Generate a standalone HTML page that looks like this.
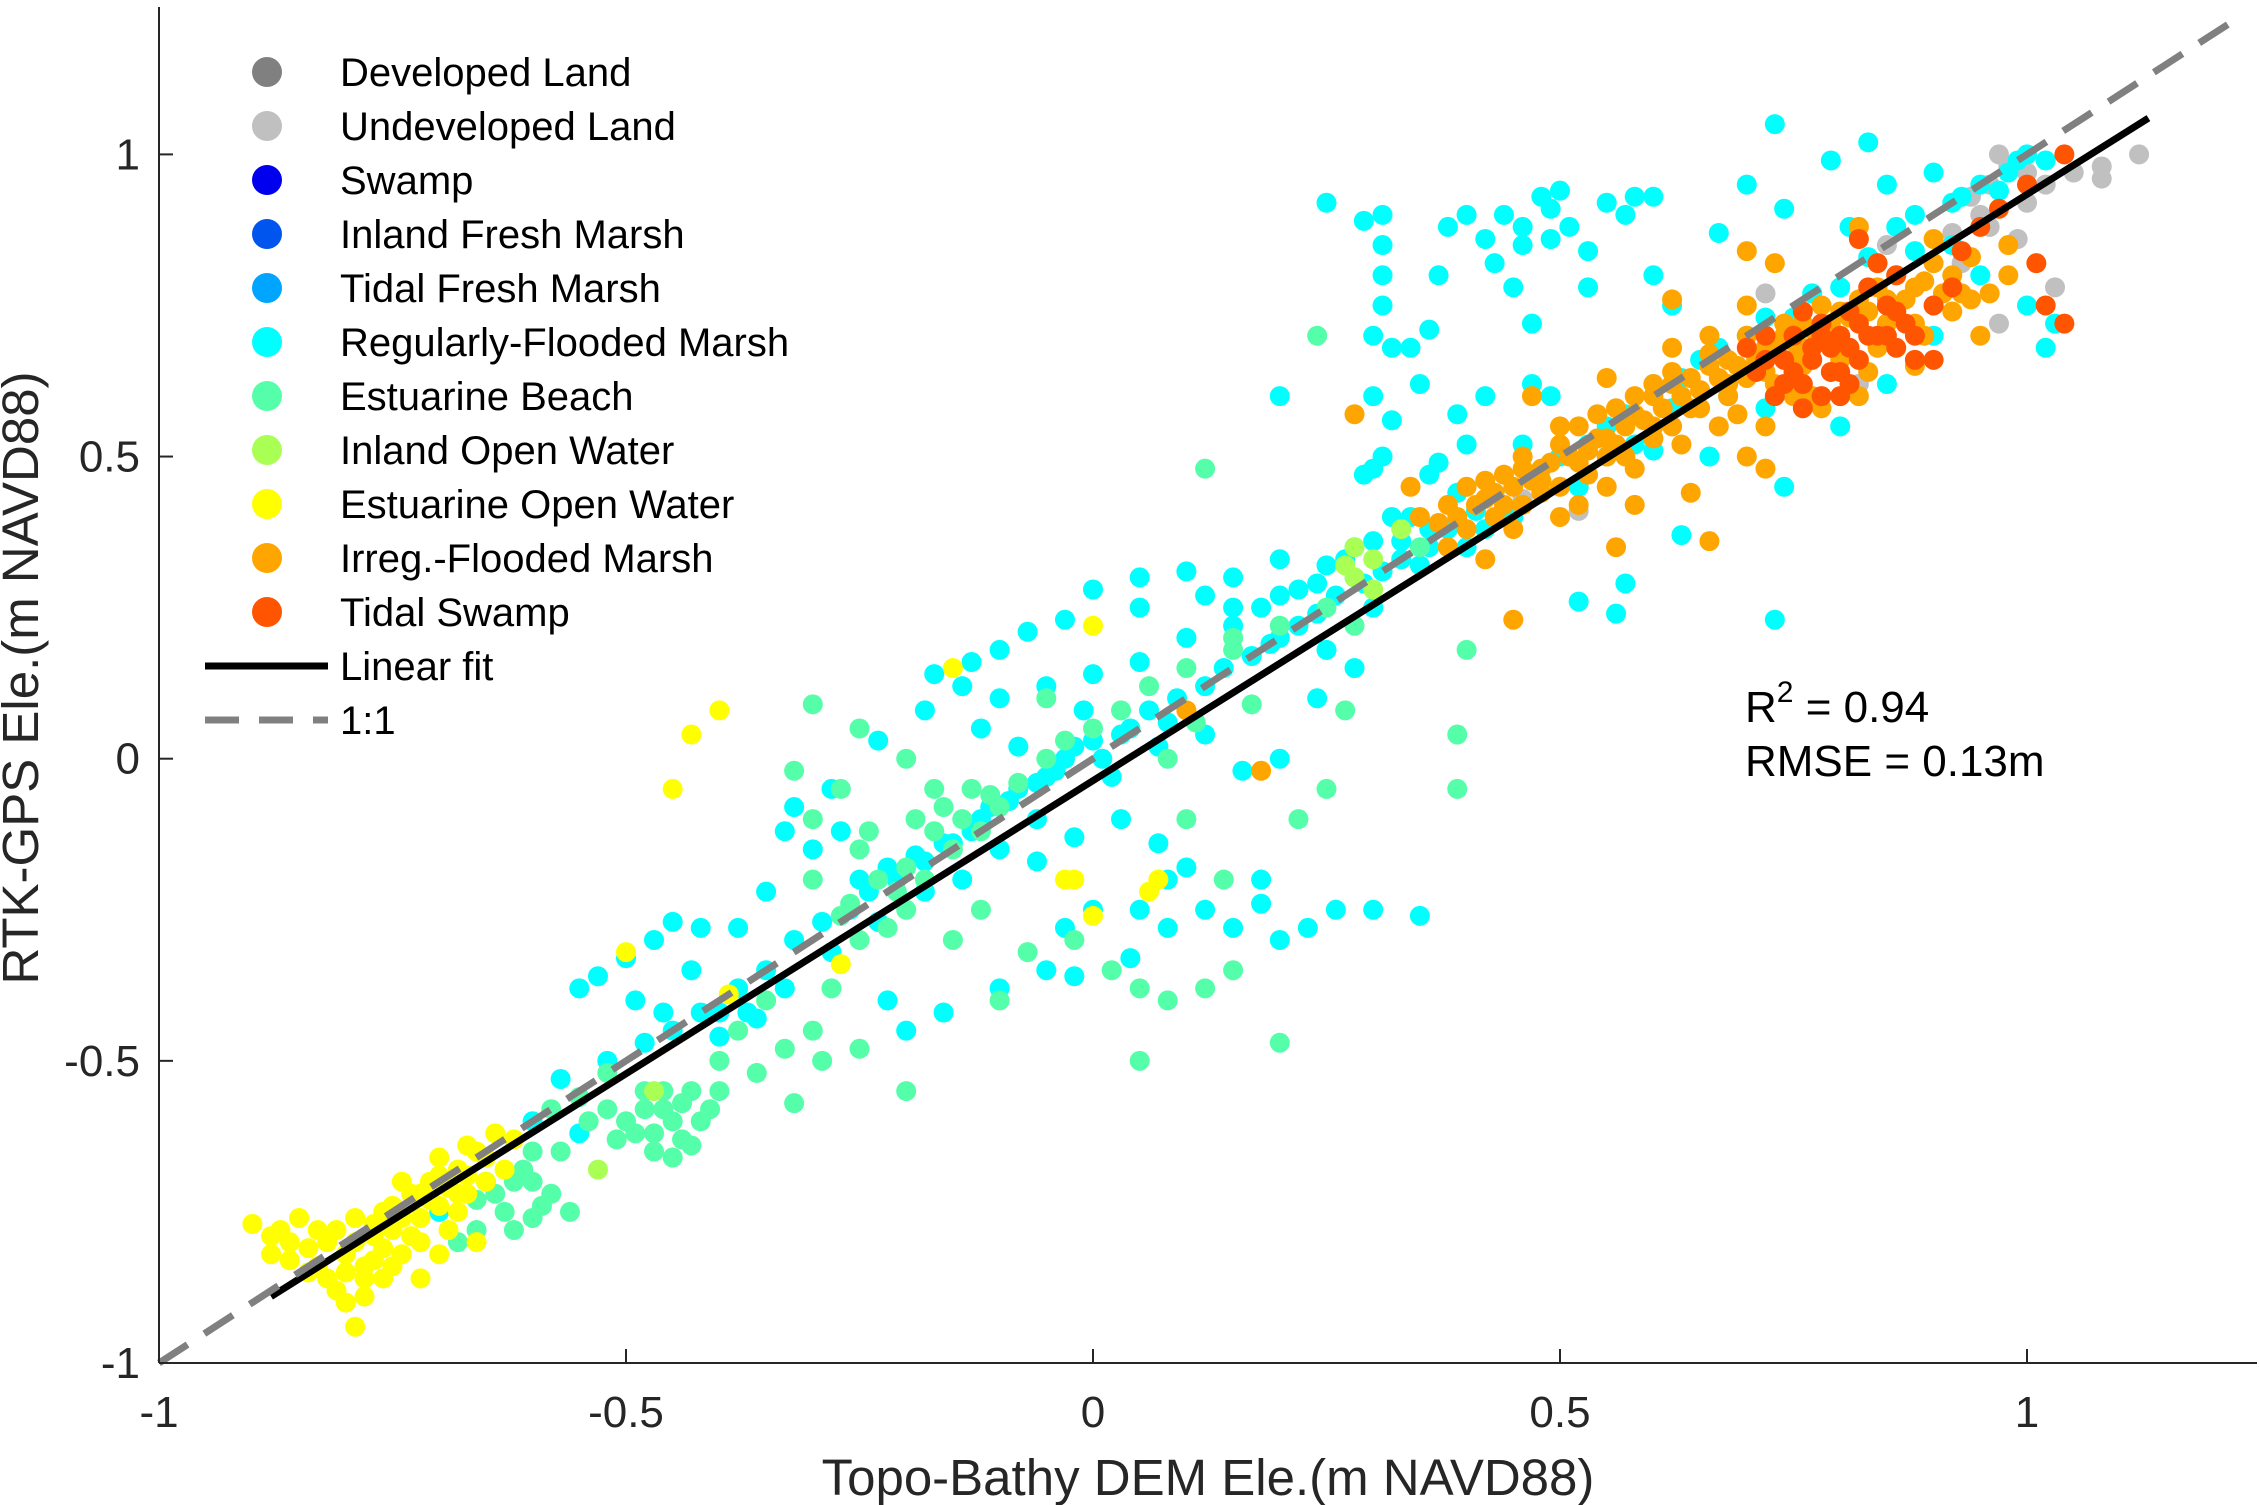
<!DOCTYPE html>
<html><head><meta charset="utf-8"><style>
html,body{margin:0;padding:0;background:#fff;}
svg{display:block;font-family:"Liberation Sans",sans-serif;}
</style></head><body>
<svg id="chart" width="2260" height="1505" viewBox="0 0 2260 1505">
<g id="marks"></g>
<g id="axes"></g>
<g id="legend"></g>
<text x="1745" y="722" font-size="44">R<tspan dy="-20" font-size="30">2</tspan><tspan dy="20"> = 0.94</tspan></text>
<text x="1745" y="776" font-size="44">RMSE = 0.13m</text>
<text x="1208" y="1495" font-size="51" text-anchor="middle" fill="#262626">Topo-Bathy DEM Ele.(m NAVD88)</text>
<text transform="translate(38,678) rotate(-90)" font-size="51" text-anchor="middle" fill="#262626">RTK-GPS Ele.(m NAVD88)</text>
</svg>
<script>
const xTicks=[-1,-0.5,0,0.5,1];
const yTicks=[-1,-0.5,0,0.5,1];
const xTickLabels=["-1","-0.5","0","0.5","1"];
const yTickLabels=["-1","-0.5","0","0.5","1"];
const fitLine=[[-0.88,-0.89],[1.13,1.06]];
const oneToOne=[[-1,-1],[1.23,1.23]];
const gray=[[0.98,0.98],[1.02,0.95],[1.05,0.97],[1.08,0.98],[1.12,1.0],[0.95,0.9],[0.93,0.82],[1.0,0.92],[0.9,0.75],[0.85,0.85],[0.97,0.72],[1.03,0.78],[0.52,0.41],[0.46,0.43],[0.72,0.77],[1.08,0.96],[0.96,0.95],[0.92,0.87],[0.99,0.86],[0.82,0.62],[0.97,1.0],[1.0,0.97],[0.94,0.93],[0.96,0.88]];
const cyan=[[0.25,0.92],[0.29,0.89],[0.31,0.9],[0.31,0.85],[0.31,0.8],[0.31,0.75],[0.3,0.7],[0.32,0.68],[0.3,0.6],[0.32,0.56],[0.31,0.5],[0.3,0.48],[0.29,0.47],[0.38,0.88],[0.4,0.9],[0.42,0.86],[0.44,0.9],[0.46,0.88],[0.48,0.93],[0.49,0.91],[0.5,0.94],[0.51,0.88],[0.55,0.92],[0.57,0.9],[0.58,0.93],[0.6,0.93],[0.43,0.82],[0.46,0.85],[0.49,0.86],[0.53,0.84],[0.37,0.8],[0.45,0.78],[0.53,0.78],[0.6,0.8],[0.62,0.75],[0.67,0.87],[0.7,0.95],[0.74,0.91],[0.79,0.99],[0.83,1.02],[0.73,1.05],[0.81,0.88],[0.85,0.95],[0.9,0.97],[0.93,0.93],[1.02,0.99],[1.0,0.75],[1.03,0.72],[1.02,0.68],[0.47,0.72],[0.36,0.71],[0.34,0.68],[0.35,0.62],[0.2,0.6],[0.42,0.6],[0.39,0.57],[0.4,0.52],[0.47,0.62],[0.49,0.6],[0.46,0.52],[0.37,0.49],[0.36,0.47],[0.55,0.55],[0.58,0.52],[0.6,0.51],[0.66,0.5],[0.74,0.45],[0.73,0.23],[0.52,0.26],[0.57,0.29],[0.56,0.24],[0.63,0.37],[0.35,0.32],[0.36,0.38],[0.32,0.4],[0.28,0.35],[0.25,0.32],[0.2,0.33],[0.15,0.3],[0.1,0.31],[0.05,0.3],[0.0,0.28],[0.05,0.25],[0.12,0.27],[0.18,0.25],[0.22,0.28],[0.28,0.3],[0.33,0.36],[-0.03,0.23],[-0.07,0.21],[-0.1,0.18],[-0.13,0.16],[-0.17,0.14],[-0.14,0.12],[-0.1,0.1],[-0.05,0.12],[0.0,0.14],[0.05,0.16],[0.1,0.2],[0.15,0.22],[0.2,0.2],[0.25,0.18],[0.3,0.25],[0.28,0.15],[0.24,0.1],[0.2,0.0],[0.16,-0.02],[0.12,0.04],[0.08,0.06],[0.04,0.05],[0.0,0.03],[-0.03,0.0],[-0.05,-0.03],[-0.08,-0.05],[-0.12,-0.1],[-0.15,-0.14],[-0.19,-0.16],[-0.22,-0.18],[-0.25,-0.2],[-0.3,-0.15],[-0.33,-0.12],[-0.28,-0.05],[-0.35,-0.22],[-0.38,-0.28],[-0.42,-0.28],[-0.45,-0.27],[-0.47,-0.3],[-0.5,-0.33],[-0.53,-0.36],[-0.55,-0.38],[-0.43,-0.35],[-0.4,-0.42],[-0.46,-0.42],[-0.49,-0.4],[-0.36,-0.43],[-0.22,-0.4],[-0.2,-0.45],[-0.16,-0.42],[-0.1,-0.38],[-0.05,-0.35],[-0.03,-0.28],[0.0,-0.25],[0.05,-0.25],[0.08,-0.2],[0.1,-0.18],[0.12,-0.25],[0.15,-0.28],[0.18,-0.24],[0.2,-0.3],[0.23,-0.28],[0.26,-0.25],[0.3,-0.25],[0.35,-0.26],[0.18,-0.2],[0.07,-0.14],[0.03,-0.1],[-0.02,-0.13],[-0.06,-0.17],[-0.02,-0.36],[0.04,-0.33],[0.08,-0.28],[-0.27,-0.12],[-0.32,-0.08],[-0.23,0.03],[-0.18,0.08],[-0.12,0.05],[-0.08,0.02],[-0.6,-0.6],[-0.55,-0.62],[-0.65,-0.7],[-0.7,-0.75],[0.6,0.62],[0.65,0.66],[0.7,0.7],[0.75,0.73],[0.8,0.78],[0.88,0.84],[0.95,0.95],[0.55,0.5],[0.52,0.45],[0.45,0.4],[0.42,0.38],[0.4,0.35],[0.48,0.46],[0.85,0.62],[0.8,0.55],[0.72,0.58],[0.9,0.7],[0.95,0.8],[0.62,0.58],[0.68,0.6],
[-0.45,-0.45],[-0.42,-0.42],[-0.38,-0.38],[-0.35,-0.35],[-0.32,-0.3],[-0.29,-0.27],[-0.26,-0.25],[-0.24,-0.22],[-0.21,-0.2],[-0.18,-0.17],[-0.16,-0.14],[-0.13,-0.12],[-0.11,-0.08],[-0.09,-0.07],[-0.06,-0.04],[-0.04,-0.02],[-0.02,0.02],[0.01,0.0],[0.03,0.04],[0.06,0.08],[0.09,0.1],[0.12,0.12],[0.14,0.15],[0.17,0.17],[0.19,0.19],[0.22,0.22],[0.24,0.24],[0.26,0.27],[0.29,0.29],[0.31,0.31],[0.33,0.33],[0.36,0.35],[0.38,0.38],[0.41,0.41],[0.43,0.44],[0.47,0.47],[0.5,0.5],[0.53,0.52],[0.57,0.57],[0.63,0.63],[0.67,0.68],[0.72,0.73],[0.77,0.77],[0.83,0.83],[0.86,0.88],[0.92,0.92],[0.98,0.97],[-0.4,-0.46],[-0.37,-0.42],[-0.33,-0.38],[-0.28,-0.32],[-0.23,-0.27],[-0.18,-0.22],[-0.14,-0.2],[-0.1,-0.15],[-0.06,-0.1],[0.15,0.25],[0.2,0.27],[0.24,0.29],[0.27,0.33],[0.3,0.36],[0.34,0.4],[0.39,0.44],[-0.48,-0.47],[-0.52,-0.5],[-0.57,-0.53],[0.02,-0.03],[0.07,0.02],[-0.01,0.08],[0.97,0.94],[0.99,0.99],[1.0,1.0],[0.88,0.9],[0.92,0.85]];
const beach=[[-0.48,-0.55],[-0.46,-0.58],[-0.45,-0.6],[-0.43,-0.55],[-0.47,-0.62],[-0.44,-0.63],[-0.5,-0.6],[-0.42,-0.6],[-0.52,-0.58],[-0.55,-0.56],[-0.58,-0.58],[-0.6,-0.65],[-0.62,-0.7],[-0.58,-0.72],[-0.56,-0.75],[-0.6,-0.76],[-0.64,-0.72],[-0.52,-0.52],[-0.4,-0.5],[-0.38,-0.45],[-0.35,-0.4],[-0.33,-0.48],[-0.3,-0.45],[-0.28,-0.38],[-0.25,-0.3],[-0.22,-0.28],[-0.2,-0.25],[-0.18,-0.2],[-0.15,-0.15],[-0.12,-0.12],[-0.1,-0.08],[-0.08,-0.04],[-0.05,0.0],[-0.03,0.03],[0.0,0.05],[0.03,0.08],[0.06,0.12],[0.1,0.15],[0.15,0.18],[0.2,0.22],[0.25,0.25],[0.28,0.22],[-0.3,-0.1],[-0.27,-0.05],[-0.32,-0.02],[-0.25,0.05],[-0.2,0.0],[-0.15,-0.3],[-0.12,-0.25],[-0.1,-0.4],[-0.07,-0.32],[-0.02,-0.3],[0.02,-0.35],[0.05,-0.38],[0.08,-0.4],[0.12,-0.38],[0.15,-0.35],[-0.32,-0.57],[-0.29,-0.5],[-0.2,-0.55],[-0.25,-0.48],[0.11,0.06],[0.17,0.09],[0.22,-0.1],[0.25,-0.05],[0.27,0.08],[0.39,0.04],[0.39,-0.05],[0.12,0.48],[-0.3,0.09],[-0.25,-0.15],[-0.17,-0.05],[-0.4,-0.55],[-0.36,-0.52],[0.05,-0.5],[0.2,-0.47],[0.4,0.18],[0.35,0.35],[-0.66,-0.78],[-0.68,-0.8],[-0.62,-0.78],[0.14,-0.2],[0.1,-0.1],[0.08,0.0],[0.24,0.7],[0.15,0.2],[-0.05,0.1],
[-0.49,-0.62],[-0.47,-0.65],[-0.45,-0.66],[-0.43,-0.64],[-0.48,-0.58],[-0.44,-0.57],[-0.46,-0.55],[-0.51,-0.63],[-0.41,-0.58],[-0.54,-0.6],[-0.57,-0.65],[-0.6,-0.7],[-0.63,-0.75],[-0.66,-0.73],[-0.61,-0.68],[-0.59,-0.74],[-0.23,-0.2],[-0.2,-0.18],[-0.17,-0.12],[-0.14,-0.1],[-0.11,-0.06],[-0.21,-0.22],[-0.26,-0.24],[-0.19,-0.1],[-0.16,-0.08],[-0.13,-0.05],[-0.24,-0.12],[-0.3,-0.2],[-0.27,-0.26]];
const inland=[[0.28,0.35],[0.3,0.33],[0.33,0.38],[0.28,0.3],[0.3,0.28],[0.27,0.32],[-0.53,-0.68],[-0.47,-0.55]];
const yellow=[[-0.9,-0.77],[-0.88,-0.82],[-0.86,-0.8],[-0.84,-0.85],[-0.83,-0.78],[-0.82,-0.8],[-0.8,-0.82],[-0.79,-0.76],[-0.78,-0.86],[-0.77,-0.79],[-0.76,-0.75],[-0.75,-0.78],[-0.74,-0.82],[-0.73,-0.72],[-0.72,-0.76],[-0.71,-0.7],[-0.7,-0.74],[-0.69,-0.78],[-0.68,-0.68],[-0.67,-0.72],[-0.66,-0.65],[-0.65,-0.7],[-0.64,-0.62],[-0.63,-0.68],[-0.62,-0.63],[-0.8,-0.9],[-0.79,-0.94],[-0.81,-0.88],[-0.76,-0.86],[-0.7,-0.82],[-0.72,-0.86],[-0.85,-0.76],[-0.87,-0.78],[-0.66,-0.8],[-0.68,-0.75],[-0.74,-0.7],[-0.77,-0.83],[-0.83,-0.84],[-0.43,0.04],[-0.45,-0.05],[-0.4,0.08],[-0.15,0.15],[0.0,0.22],[-0.03,-0.2],[0.0,-0.26],[0.07,-0.2],[-0.5,-0.32],[-0.27,-0.34],[-0.39,-0.39],[0.06,-0.22],[-0.02,-0.2],
[-0.81,-0.78],[-0.79,-0.8],[-0.77,-0.77],[-0.75,-0.74],[-0.73,-0.79],[-0.71,-0.73],[-0.69,-0.71],[-0.67,-0.69],[-0.78,-0.84],[-0.76,-0.81],[-0.74,-0.76],[-0.72,-0.72],[-0.7,-0.69],[-0.68,-0.72],[-0.84,-0.81],[-0.82,-0.86],[-0.8,-0.85],[-0.88,-0.79],[-0.86,-0.83],[-0.65,-0.66],[-0.67,-0.64],[-0.7,-0.66],[-0.72,-0.8],[-0.75,-0.84],[-0.78,-0.89]];
const orange=[[0.35,0.4],[0.38,0.42],[0.4,0.45],[0.42,0.43],[0.44,0.47],[0.46,0.5],[0.48,0.48],[0.5,0.52],[0.52,0.55],[0.54,0.53],[0.56,0.58],[0.58,0.57],[0.6,0.6],[0.62,0.62],[0.64,0.63],[0.66,0.65],[0.68,0.66],[0.7,0.7],[0.72,0.68],[0.74,0.72],[0.76,0.72],[0.78,0.75],[0.8,0.74],[0.82,0.76],[0.84,0.78],[0.86,0.8],[0.88,0.78],[0.9,0.82],[0.92,0.8],[0.94,0.83],[0.4,0.38],[0.43,0.4],[0.46,0.42],[0.48,0.44],[0.5,0.45],[0.53,0.47],[0.55,0.5],[0.57,0.5],[0.6,0.53],[0.62,0.55],[0.65,0.58],[0.68,0.6],[0.7,0.63],[0.73,0.62],[0.76,0.65],[0.8,0.66],[0.84,0.68],[0.88,0.72],[0.92,0.74],[0.96,0.77],[0.98,0.8],[0.45,0.38],[0.5,0.4],[0.52,0.42],[0.55,0.45],[0.58,0.48],[0.6,0.62],[0.62,0.68],[0.66,0.7],[0.7,0.75],[0.67,0.55],[0.72,0.55],[0.78,0.58],[0.82,0.6],[0.7,0.5],[0.72,0.48],[0.77,0.6],[0.66,0.36],[0.47,0.6],[0.55,0.63],[0.62,0.76],[0.7,0.84],[0.73,0.82],[0.9,0.86],[0.93,0.77],[0.98,0.85],[0.82,0.88],[0.45,0.23],[0.18,-0.02],[0.28,0.57],[0.34,0.45],[0.38,0.35],[0.42,0.33],[0.58,0.42],[0.85,0.72],[0.88,0.65],[0.95,0.7],[0.1,0.08],[0.56,0.35],[0.75,0.66],[0.64,0.44],
[0.37,0.39],[0.39,0.4],[0.41,0.42],[0.43,0.44],[0.45,0.45],[0.47,0.46],[0.49,0.49],[0.51,0.5],[0.53,0.51],[0.55,0.53],[0.57,0.55],[0.59,0.56],[0.61,0.58],[0.63,0.6],[0.65,0.61],[0.67,0.63],[0.69,0.65],[0.71,0.66],[0.73,0.68],[0.75,0.69],[0.77,0.71],[0.79,0.72],[0.81,0.73],[0.83,0.74],[0.85,0.76],[0.87,0.76],[0.89,0.79],[0.91,0.77],[0.44,0.42],[0.48,0.46],[0.52,0.49],[0.56,0.52],[0.6,0.55],[0.64,0.58],[0.68,0.62],[0.72,0.64],[0.76,0.68],[0.8,0.7],[0.86,0.74],[0.42,0.46],[0.46,0.48],[0.5,0.55],[0.54,0.57],[0.58,0.6],[0.62,0.64],[0.66,0.67],[0.74,0.7],[0.63,0.52],[0.69,0.57],[0.75,0.6],[0.83,0.64],[0.89,0.7],[0.94,0.76]];
const red=[[0.7,0.68],[0.72,0.7],[0.74,0.66],[0.75,0.7],[0.76,0.74],[0.78,0.72],[0.79,0.68],[0.8,0.7],[0.81,0.74],[0.82,0.72],[0.83,0.78],[0.84,0.7],[0.85,0.75],[0.86,0.68],[0.87,0.72],[0.88,0.66],[0.9,0.66],[0.76,0.62],[0.78,0.6],[0.8,0.64],[0.73,0.6],[0.84,0.82],[0.82,0.86],[0.86,0.8],[0.9,0.75],[0.92,0.78],[0.93,0.84],[0.95,0.88],[0.97,0.91],[1.0,0.95],[1.04,1.0],[1.01,0.82],[1.02,0.75],[1.04,0.72],[0.77,0.66],[0.81,0.62],
[0.75,0.64],[0.77,0.68],[0.79,0.64],[0.81,0.68],[0.83,0.7],[0.85,0.7],[0.74,0.62],[0.76,0.58],[0.8,0.6],[0.82,0.66],[0.78,0.7],[0.72,0.66],[0.71,0.64],[0.86,0.74],[0.88,0.7]];
const X0=159,XS=934,Y0=1363,YS=604.3;
const xs=v=>X0+(v+1)*XS;
const ys=v=>Y0-(v+1)*YS;
const NS="http://www.w3.org/2000/svg";
const marks=document.getElementById('marks');
function drawSeries(arr,color,name){
  const g=document.createElementNS(NS,'g');
  
  
  arr.forEach(p=>{
    const c=document.createElementNS(NS,'circle');
    c.setAttribute('cx',xs(p[0]));c.setAttribute('cy',ys(p[1]));c.setAttribute('r',10);c.setAttribute('fill',color);
    
    
    g.appendChild(c);
  });
  marks.appendChild(g);
}
drawSeries(gray,'#c0c0c0','undeveloped-land');
drawSeries(cyan,'#00ffff','regularly-flooded-marsh');
drawSeries(beach,'#55ffaa','estuarine-beach');
drawSeries(inland,'#aaff55','inland-open-water');
drawSeries(yellow,'#ffff00','estuarine-open-water');
drawSeries(orange,'#ffa500','irreg-flooded-marsh');
drawSeries(red,'#ff5500','tidal-swamp');
function line(p,stroke,w,dash,name){
  const l=document.createElementNS(NS,'line');
  l.setAttribute('x1',xs(p[0][0]));l.setAttribute('y1',ys(p[0][1]));
  l.setAttribute('x2',xs(p[1][0]));l.setAttribute('y2',ys(p[1][1]));
  l.setAttribute('stroke',stroke);l.setAttribute('stroke-width',w);
  if(dash)l.setAttribute('stroke-dasharray',dash);
  
  
  marks.appendChild(l);
}
line(fitLine,'#000',7,null,'linear-fit-line');
line(oneToOne,'#808080',7,'34,20','one-to-one-line');
const axes=document.getElementById('axes');
let h='';
h+='<line x1="159" y1="1363" x2="2257" y2="1363" stroke="#262626" stroke-width="2"/>';
h+='<line x1="159" y1="1363" x2="159" y2="7" stroke="#262626" stroke-width="2"/>';
xTicks.forEach((t,i)=>{const x=xs(t);
 h+='<line x1="'+x+'" y1="1363" x2="'+x+'" y2="1349" stroke="#262626" stroke-width="2"/>';
 h+='<text x="'+x+'" y="1427" font-size="44" text-anchor="middle" fill="#262626">'+xTickLabels[i]+'</text>';});
yTicks.forEach((t,i)=>{const y=ys(t);
 h+='<line x1="159" y1="'+y+'" x2="173" y2="'+y+'" stroke="#262626" stroke-width="2"/>';
 h+='<text x="140" y="'+(y+15)+'" font-size="44" text-anchor="end" fill="#262626">'+yTickLabels[i]+'</text>';});
axes.innerHTML=h;
const legNames=["Developed Land","Undeveloped Land","Swamp","Inland Fresh Marsh","Tidal Fresh Marsh","Regularly-Flooded Marsh","Estuarine Beach","Inland Open Water","Estuarine Open Water","Irreg.-Flooded Marsh","Tidal Swamp"];
const legColors=["#808080","#c0c0c0","#0000ee","#0055ee","#00a5ff","#00ffff","#55ffaa","#aaff55","#ffff00","#ffa500","#ff5500"];
let lh='';
legNames.forEach((n,i)=>{const y=72+i*54;
 lh+='<g><circle cx="267" cy="'+y+'" r="15" fill="'+legColors[i]+'"/><text x="340" y="'+(y+14)+'" font-size="40">'+n+'</text></g>';});
lh+='<g><line x1="205" y1="666" x2="328" y2="666" stroke="#000" stroke-width="7"/><text x="340" y="680" font-size="40">Linear fit</text></g>';
lh+='<g><line x1="205" y1="720" x2="328" y2="720" stroke="#808080" stroke-width="7" stroke-dasharray="34,20"/><text x="340" y="734" font-size="40">1:1</text></g>';
document.getElementById('legend').innerHTML=lh;
</script>
</body></html>
